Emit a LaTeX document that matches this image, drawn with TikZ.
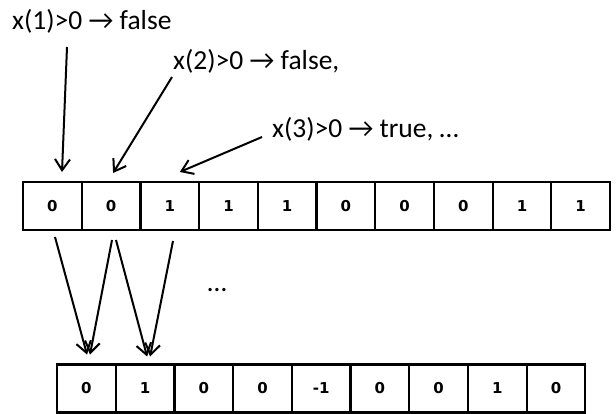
\documentclass[tikz,border=0pt]{standalone}
\usepackage{fontspec}
\setmainfont{Carlito}
\newfontfamily\cellfont{DejaVu Sans}
\usetikzlibrary{arrows.meta}
\tikzset{
    % Array cell style
    cellnode/.style={
        draw=black,
        line width=2.2pt,
        minimum width=58.7pt,
        minimum height=48pt,
        inner sep=0pt,
        outer sep=0pt,
        font=\cellfont\bfseries\fontsize{15}{18}\selectfont
    },
    % Label style
    labelnode/.style={
        anchor=west,
        inner sep=0pt,
        font=\fontsize{27.5}{32}\selectfont
    },
    % Arrow style
    myarrow/.style={
        -{Straight Barb[length=11pt,width=15pt,line width=2pt]},
        line width=2pt,
        draw=black
    }
}
\begin{document}
\begin{tikzpicture}[x=1pt, y=-1pt]
        \useasboundingbox (0,0) rectangle (616,413);

        % Labels
        \node[labelnode] (l1) at (12,21) {x(1)>0 → false};
        \node[labelnode] (l2) at (173,61) {x(2)>0 → false,};
        \node[labelnode] (l3) at (272,129) {x(3)>0 → true, …};
        \node[font=\fontsize{27.5}{32}\selectfont] (dots) at (217,290) {…};

        % Input array
        \node[cellnode] (t1) at (52.4,206) {0};
        \node[cellnode] (t2) at (111.1,206) {0};
        \node[cellnode] (t3) at (169.8,206) {1};
        \node[cellnode] (t4) at (228.5,206) {1};
        \node[cellnode] (t5) at (287.2,206) {1};
        \node[cellnode] (t6) at (345.9,206) {0};
        \node[cellnode] (t7) at (404.6,206) {0};
        \node[cellnode] (t8) at (463.3,206) {0};
        \node[cellnode] (t9) at (522.0,206) {1};
        \node[cellnode] (t10) at (580.7,206) {1};

        % Output array
        \node[cellnode] (b1) at (86.4,388.5) {0};
        \node[cellnode] (b2) at (145.1,388.5) {1};
        \node[cellnode] (b3) at (203.8,388.5) {0};
        \node[cellnode] (b4) at (262.5,388.5) {0};
        \node[cellnode] (b5) at (321.2,388.5) {-1};
        \node[cellnode] (b6) at (379.9,388.5) {0};
        \node[cellnode] (b7) at (438.6,388.5) {0};
        \node[cellnode] (b8) at (497.3,388.5) {1};
        \node[cellnode] (b9) at (556.0,388.5) {0};

        % Arrow tails under the labels
        \coordinate (s1) at (67,47);
        \coordinate (s2) at (172,77);
        \coordinate (s3) at (262,137);

        % Tests on the input
        \draw[myarrow] (s1) -- ([shift={(9.6,-10)}]t1.north);
        \draw[myarrow] (s2) -- ([shift={(2,-9)}]t2.north);
        \draw[myarrow] (s3) -- ([shift={(10,-10)}]t3.north);

        % Differences into the output
        \draw[myarrow] ([shift={(2.6,7)}]t1.south) -- ([shift={(0.6,-10)}]b1.north);
        \draw[myarrow] ([shift={(0.9,10)}]t2.south) -- ([shift={(3.6,-10)}]b1.north);
        \draw[myarrow] ([shift={(4.9,10)}]t2.south) -- ([shift={(2,-8)}]b2.north);
        \draw[myarrow] ([shift={(3.2,11)}]t3.south) -- ([shift={(5,-8)}]b2.north);
    \end{tikzpicture}
\end{document}
